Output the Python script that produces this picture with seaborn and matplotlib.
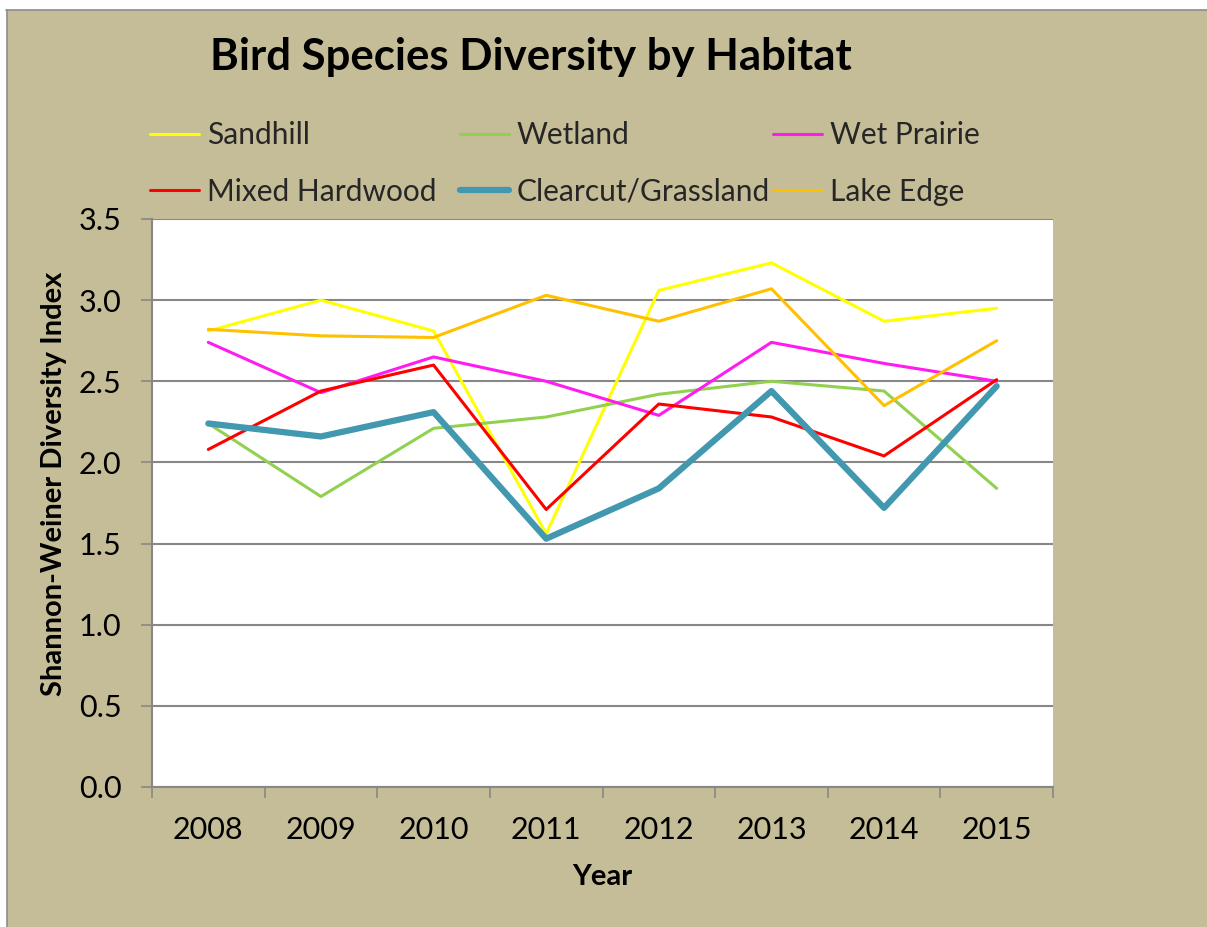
import matplotlib
matplotlib.use("Agg")
import matplotlib.pyplot as plt
from matplotlib.patches import Rectangle
from matplotlib.lines import Line2D
import seaborn as sns
import pandas as pd

years = ["2008", "2009", "2010", "2011", "2012", "2013", "2014", "2015"]
sandhill = [2.81, 3.00, 2.81, 1.56, 3.06, 3.23, 2.87, 2.95]
wetland = [2.24, 1.79, 2.21, 2.28, 2.42, 2.50, 2.44, 1.84]
wet_prairie = [2.74, 2.43, 2.65, 2.50, 2.29, 2.74, 2.61, 2.50]
mixed_hardwood = [2.08, 2.44, 2.60, 1.71, 2.36, 2.28, 2.04, 2.51]
clearcut_grassland = [2.24, 2.16, 2.31, 1.53, 1.84, 2.44, 1.72, 2.47]
lake_edge = [2.82, 2.78, 2.77, 3.03, 2.87, 3.07, 2.35, 2.75]

habitats = ["Sandhill", "Wetland", "Wet Prairie",
            "Mixed Hardwood", "Clearcut/Grassland", "Lake Edge"]
series = [sandhill, wetland, wet_prairie, mixed_hardwood, clearcut_grassland, lake_edge]
colors = {"Sandhill": "#FFFF00", "Wetland": "#92D050", "Wet Prairie": "#FF1CF0",
          "Mixed Hardwood": "#FF0000", "Clearcut/Grassland": "#4198AF",
          "Lake Edge": "#FFC000"}
widths = {"Sandhill": 2.2, "Wetland": 2.2, "Wet Prairie": 2.2,
          "Mixed Hardwood": 2.2, "Clearcut/Grassland": 4.5, "Lake Edge": 2.2}

df = pd.DataFrame(
    [(y, h, v) for h, vals in zip(habitats, series) for y, v in zip(years, vals)],
    columns=["Year", "Habitat", "Index"],
)
df["pos"] = df["Year"].map({y: i for i, y in enumerate(years)})

sns.set_theme(style="white")
plt.rcParams["font.family"] = ["Lato", "DejaVu Sans"]

W, H = 1207, 927
fig = plt.figure(figsize=(W / 100, H / 100), dpi=100)
fig.patch.set_facecolor("white")

# chart-area panel with a grey rule on the left and top edges
bg = Rectangle((7 / W, 0), 1 - 7 / W, 1 - 10 / H, transform=fig.transFigure,
               facecolor="#C4BD97", edgecolor="none", zorder=-10)
fig.patches.append(bg)
fig.lines.append(Line2D([6.5 / W, 6.5 / W], [0, 1 - 9.5 / H], transform=fig.transFigure,
                        color="#8C8C8C", lw=1.2))
fig.lines.append(Line2D([6 / W, 1], [1 - 9.5 / H, 1 - 9.5 / H], transform=fig.transFigure,
                        color="#8C8C8C", lw=1.2))

ax = fig.add_axes([152 / W, 1 - 787 / H, (1053 - 152) / W, (787 - 219) / H])
ax.set_facecolor("white")

handles = {}
for h in habitats:
    sub = df[df["Habitat"] == h]
    sns.lineplot(data=sub, x="pos", y="Index", ax=ax, color=colors[h],
                 linewidth=widths[h], label=h, legend=False, zorder=3)
    handles[h] = ax.lines[-1]

ax.set_xlim(-0.5, len(years) - 0.5)
ax.set_ylim(0, 3.5)
ax.set_yticks([0, 0.5, 1.0, 1.5, 2.0, 2.5, 3.0, 3.5])
ax.set_yticklabels([f"{v:.1f}" for v in ax.get_yticks()])
ax.set_xticks(range(len(years)))
ax.set_xticklabels(years)
ax.set_xticks([i - 0.5 for i in range(len(years) + 1)], minor=True)

ax.grid(axis="y", color="#878787", linewidth=1.5, zorder=1)
ax.set_axisbelow(True)
for s in ["top", "right"]:
    ax.spines[s].set_visible(False)
for s in ["left", "bottom"]:
    ax.spines[s].set_color("#878787")
    ax.spines[s].set_linewidth(1.5)

ax.tick_params(axis="x", which="major", length=0, pad=21, labelsize=22, colors="black")
ax.tick_params(axis="x", which="minor", length=8, width=1.2, color="#878787",
               direction="out", bottom=True)
ax.tick_params(axis="y", length=8, width=1.2, color="#878787", direction="out",
               left=True, pad=14, labelsize=22, labelcolor="black")

ax.set_xlabel("Year", fontsize=21, fontweight="bold", labelpad=14, color="black")
ax.set_ylabel("Shannon-Weiner Diversity Index", fontsize=21, fontweight="bold",
              color="black")
ax.yaxis.set_label_coords(-0.094, 0.533)

fig.text(531 / W, 1 - 57 / H, "Bird Species Diversity by Habitat", ha="center",
         va="center", fontsize=31.5, fontweight="bold", color="black")

# three legend columns, two rows each
columns = [["Sandhill", "Mixed Hardwood"], ["Wetland", "Clearcut/Grassland"],
           ["Wet Prairie", "Lake Edge"]]
col_x = [150, 460, 773]
for names, x in zip(columns, col_x):
    fig.legend([handles[n] for n in names], names, loc="center left",
               bbox_to_anchor=(x / W, 1 - 163.5 / H), frameon=False,
               fontsize=21.5, handlelength=1.65, handletextpad=0.25,
               borderpad=0, borderaxespad=0, labelspacing=0.95)

fig.savefig("out.png", dpi=100, facecolor=fig.get_facecolor())
